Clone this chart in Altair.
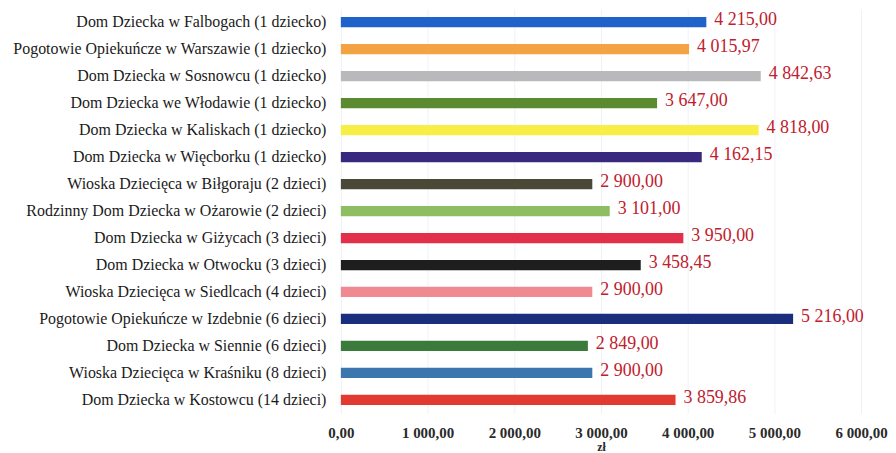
import altair as alt
import pandas as pd

categories = [
    "Dom Dziecka w Falbogach (1 dziecko)",
    "Pogotowie Opiekuńcze w Warszawie (1 dziecko)",
    "Dom Dziecka w Sosnowcu (1 dziecko)",
    "Dom Dziecka we Włodawie (1 dziecko)",
    "Dom Dziecka w Kaliskach (1 dziecko)",
    "Dom Dziecka w Więcborku (1 dziecko)",
    "Wioska Dziecięca w Biłgoraju (2 dzieci)",
    "Rodzinny Dom Dziecka w Ożarowie (2 dzieci)",
    "Dom Dziecka w Giżycach (3 dzieci)",
    "Dom Dziecka w Otwocku (3 dzieci)",
    "Wioska Dziecięca w Siedlcach (4 dzieci)",
    "Pogotowie Opiekuńcze w Izdebnie (6 dzieci)",
    "Dom Dziecka w Siennie (6 dzieci)",
    "Wioska Dziecięca w Kraśniku (8 dzieci)",
    "Dom Dziecka w Kostowcu (14 dzieci)",
]
values = [4215.00, 4015.97, 4842.63, 3647.00, 4818.00, 4162.15, 2900.00,
          3101.00, 3950.00, 3458.45, 2900.00, 5216.00, 2849.00, 2900.00, 3859.86]
colors = ["#1f62c9", "#f3a244", "#b9b9bb", "#5b8a31", "#f7ef45", "#38287e",
          "#4a4836", "#8fbe62", "#e2304a", "#1e1e1e", "#f08a92", "#1b2e7e",
          "#3a7b3b", "#3b77ae", "#e23a30"]
x_ticks = [0, 1000, 2000, 3000, 4000, 5000, 6000]

df = pd.DataFrame({"name": categories, "value": values, "color": colors})

FONT = "serif"

y = alt.Y("name:N", sort=categories, title=None,
          scale=alt.Scale(paddingInner=0.62, paddingOuter=0.31),
          axis=alt.Axis(domain=False, ticks=False, labelFont=FONT, labelFontSize=16,
                        labelColor="#1a1a1a", labelPadding=15, labelLimit=400))
x = alt.X("value:Q", title="zł",
          scale=alt.Scale(domain=[0, 6000], nice=False),
          axis=alt.Axis(values=x_ticks, format=",.2f", domain=False, ticks=False,
                        labelFlush=False,
                        labelFont=FONT, labelFontSize=15, labelFontWeight="bold",
                        labelColor="#2a2a2a", labelPadding=12,
                        titleFont=FONT, titleFontSize=12, titleFontWeight="bold",
                        titleColor="#2a2a2a", titlePadding=1,
                        grid=True, gridColor="#eef2f7", gridWidth=1))

bars = alt.Chart(df).mark_bar().encode(
    x=x, y=y,
    color=alt.Color("color:N", scale=None),
)
texts = alt.Chart(df).mark_text(align="left", baseline="middle", dx=8, dy=-2,
                                font=FONT, fontSize=18, color="#c0202e").encode(
    x="value:Q", y=alt.Y("name:N", sort=categories),
    text=alt.Text("value:Q", format=",.2f"),
)

chart = (bars + texts).properties(width=522, height=406).configure(
    locale={"number": {"decimal": ",", "thousands": "\u00a0", "grouping": [3],
                       "currency": ["", " zł"]}}
).configure_view(stroke=None).properties(padding={"left": 4, "top": 0, "right": 0, "bottom": 0})

chart.save("out.html", embed_options={"renderer": "svg", "actions": False})
